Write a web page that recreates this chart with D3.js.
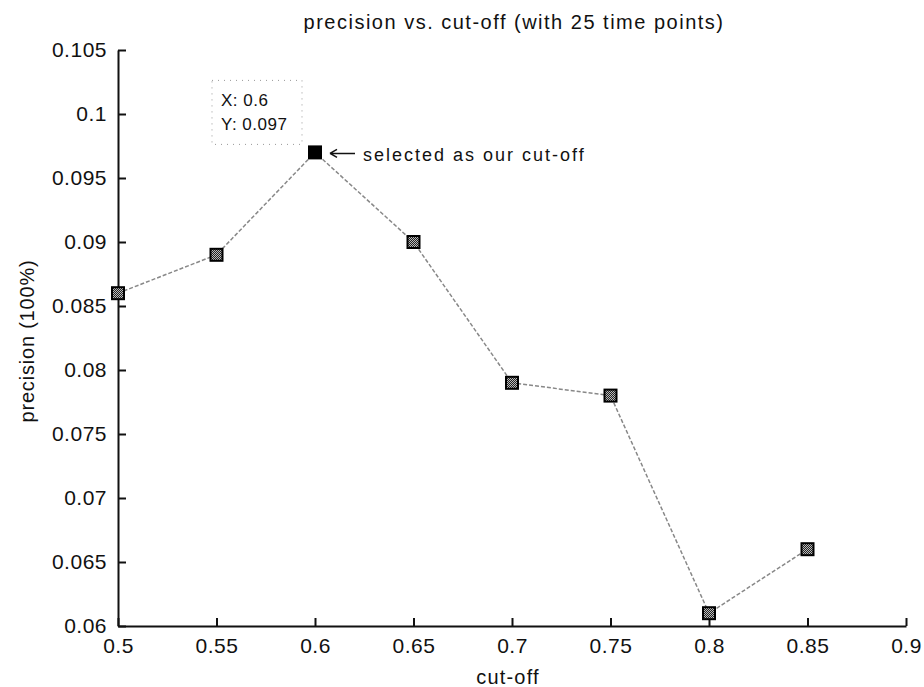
<!DOCTYPE html>
<html>
<head>
<meta charset="utf-8">
<script src="https://cdn.jsdelivr.net/npm/d3@7"></script>
<style>
  body { margin: 0; background: #fff; }
  svg text { font-family: "Liberation Sans", Arial, sans-serif; fill: #111; }
  .axis path, .axis line { stroke: #111; stroke-width: 2; }
  .axis text { font-size: 21px; letter-spacing: 0.5px; font-family: "Liberation Sans", Arial, sans-serif; fill: #111; }
</style>
</head>
<body>
<svg id="chart" width="924" height="687"></svg>
<script>
// data
let cutoffs = [0.5, 0.55, 0.6, 0.65, 0.7, 0.75, 0.8, 0.85];
let precisions = [0.086, 0.089, 0.097, 0.090, 0.079, 0.078, 0.061, 0.066];
let xTicks = [0.5, 0.55, 0.6, 0.65, 0.7, 0.75, 0.8, 0.85, 0.9];
let yTicks = [0.06, 0.065, 0.07, 0.075, 0.08, 0.085, 0.09, 0.095, 0.1, 0.105];
let selected = 2;

let svg = d3.select("#chart"),
    plotLeft = 118, plotRight = 906, plotTop = 50, plotBottom = 626;

let xScale = d3.scaleLinear().domain([0.5, 0.9]).range([plotLeft, plotRight]);
let yScale = d3.scaleLinear().domain([0.06, 0.105]).range([plotBottom, plotTop]);

// pattern for the grey markers
let defs = svg.append("defs");
let pat = defs.append("pattern")
    .attr("id", "checker")
    .attr("width", 2).attr("height", 2)
    .attr("patternUnits", "userSpaceOnUse");
pat.append("rect").attr("width", 2).attr("height", 2).attr("fill", "#222");
pat.append("rect").attr("width", 1).attr("height", 1).attr("fill", "#bbb");
pat.append("rect").attr("x", 1).attr("y", 1).attr("width", 1).attr("height", 1).attr("fill", "#bbb");

// axes (only left and bottom, ticks inward)
let xAxis = d3.axisBottom(xScale)
    .tickValues(xTicks)
    .tickSizeInner(-8).tickSizeOuter(0)
    .tickPadding(12)
    .tickFormat(d3.format(""));
svg.append("g")
    .attr("class", "axis")
    .attr("transform", `translate(0, ${plotBottom})`)
    .call(xAxis)
    .attr("font-size", null).attr("font-family", null);

let yAxis = d3.axisLeft(yScale)
    .tickValues(yTicks)
    .tickSizeInner(-8).tickSizeOuter(0)
    .tickPadding(11)
    .tickFormat(d3.format(""));
svg.append("g")
    .attr("class", "axis")
    .attr("transform", `translate(${plotLeft}, 0)`)
    .call(yAxis)
    .attr("font-size", null).attr("font-family", null);

// line
let pts = cutoffs.map((c, i) => [c, precisions[i]]);
svg.append("path")
    .datum(pts)
    .attr("fill", "none")
    .attr("stroke", "#888")
    .attr("stroke-width", 1.5)
    .attr("stroke-dasharray", "4,2")
    .attr("d", d3.line()
        .x(d => xScale(d[0]))
        .y(d => yScale(d[1])));

// markers
svg.selectAll(".marker")
    .data(pts)
    .enter()
    .append("rect")
    .attr("class", "marker")
    .attr("x", d => xScale(d[0]) - 6)
    .attr("y", d => yScale(d[1]) - 6)
    .attr("width", 12)
    .attr("height", 12)
    .attr("fill", (d, i) => i === selected ? "#000" : "url(#checker)")
    .attr("stroke", "#000")
    .attr("stroke-width", 2);

// data tip
let sx = xScale(cutoffs[selected]), sy = yScale(precisions[selected]);
svg.append("rect")
    .attr("x", sx - 103).attr("y", sy - 72)
    .attr("width", 90).attr("height", 64)
    .attr("fill", "none")
    .attr("stroke", "#999")
    .attr("stroke-width", 1)
    .attr("stroke-dasharray", "1,5");
svg.append("text")
    .attr("x", sx - 94).attr("y", sy - 46)
    .attr("font-size", 17)
    .attr("letter-spacing", 0.5)
    .text("X: " + cutoffs[selected]);
svg.append("text")
    .attr("x", sx - 94).attr("y", sy - 22)
    .attr("font-size", 17)
    .attr("letter-spacing", 0.5)
    .text("Y: " + precisions[selected]);

// annotation arrow + text
let ay = sy + 1;
svg.append("path")
    .attr("d", `M${sx + 15},${ay} L${sx + 40},${ay} M${sx + 15},${ay} L${sx + 22},${ay - 4} M${sx + 15},${ay} L${sx + 22},${ay + 4}`)
    .attr("stroke", "#111")
    .attr("stroke-width", 1.5)
    .attr("fill", "none");
svg.append("text")
    .attr("x", sx + 48).attr("y", sy + 9)
    .attr("font-size", 18)
    .attr("letter-spacing", 2)
    .text("selected as our cut-off");

// title and labels
svg.append("text")
    .attr("x", (plotLeft + plotRight) / 2 + 2).attr("y", 29)
    .attr("text-anchor", "middle")
    .attr("font-size", 20)
    .attr("letter-spacing", 1.5)
    .text("precision vs. cut-off (with 25 time points)");
svg.append("text")
    .attr("x", (plotLeft + plotRight) / 2 - 4).attr("y", 684)
    .attr("text-anchor", "middle")
    .attr("font-size", 20)
    .attr("letter-spacing", 1.2)
    .text("cut-off");
svg.append("text")
    .attr("transform", `translate(34, ${(plotTop + plotBottom) / 2 + 3}) rotate(-90)`)
    .attr("text-anchor", "middle")
    .attr("font-size", 20)
    .attr("letter-spacing", 0.8)
    .text("precision (100%)");
</script>
</body>
</html>
